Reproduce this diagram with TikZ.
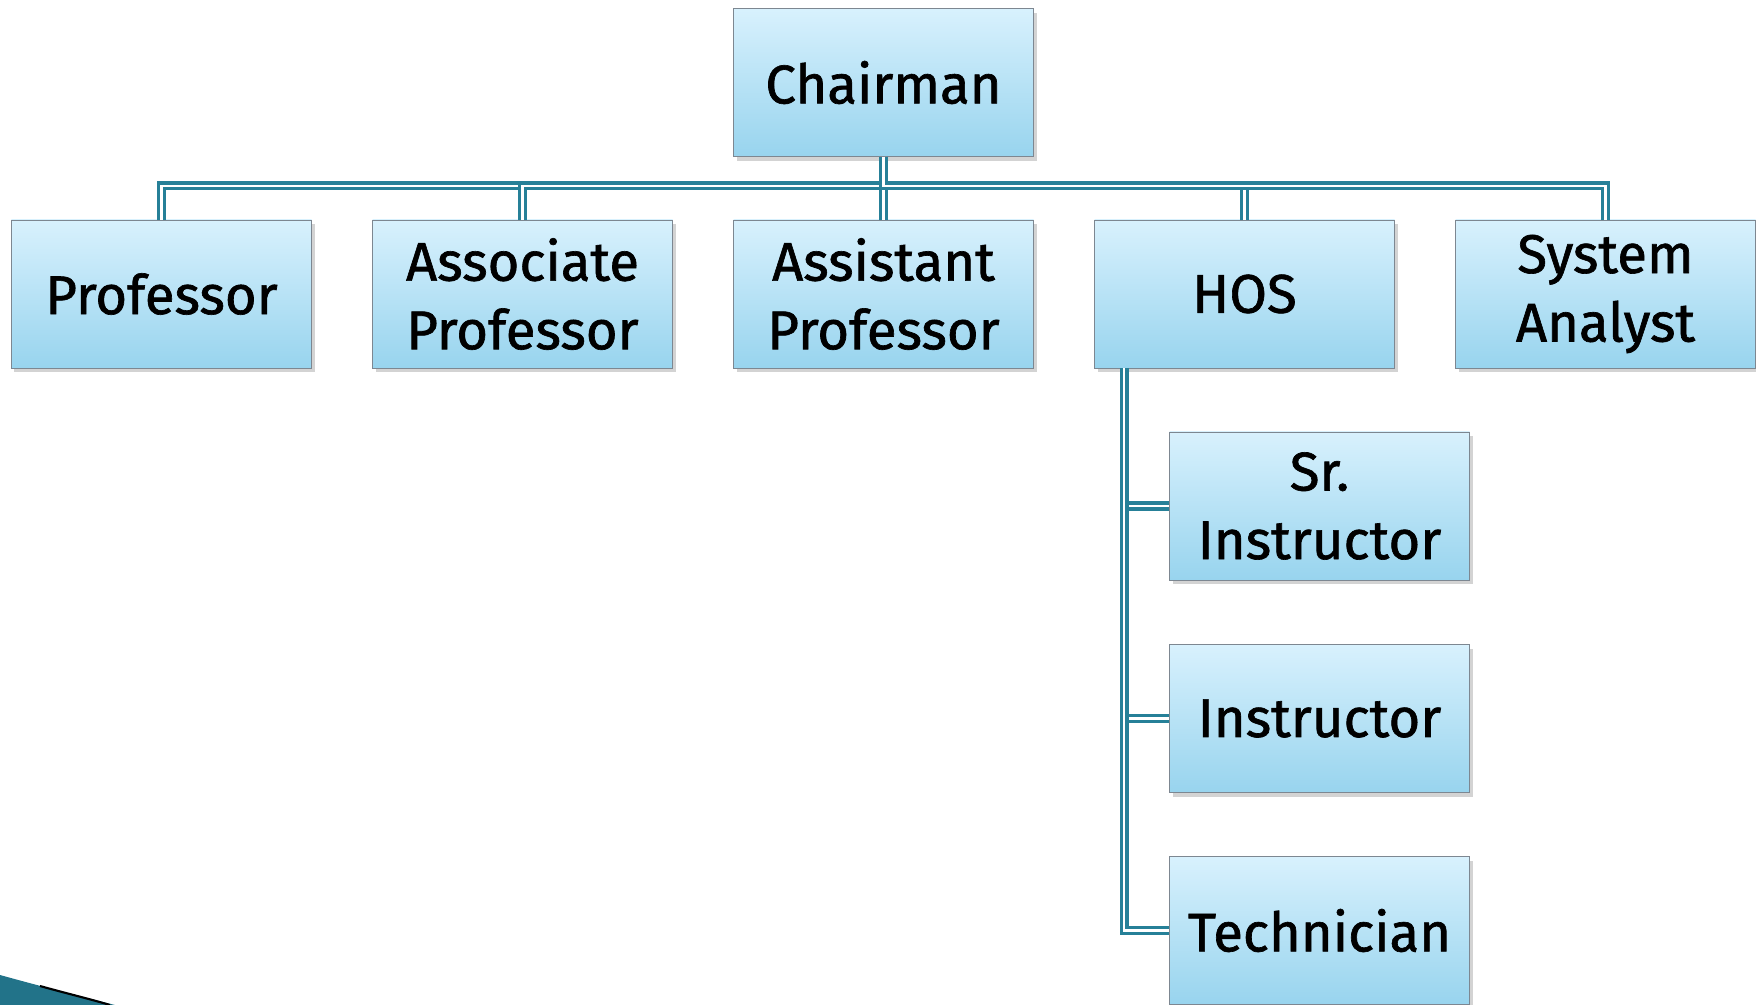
\documentclass[tikz,border=0pt]{standalone}
\usepackage{fontspec}
\setmainfont{Fira Sans}
\newfontfamily\postfont{Fira Sans}[FakeBold=1.2]
\usepackage{tikz}
\usepackage{xcolor}
\usetikzlibrary{positioning}
\usetikzlibrary{shadows}
\definecolor{linkteal}{RGB}{38,128,152}
\definecolor{boxtop}{RGB}{216,241,253}
\definecolor{boxbot}{RGB}{152,212,238}
\definecolor{boxedge}{RGB}{125,135,145}
\tikzset{
    post/.style = {draw=boxedge, rectangle, thin,
        top color=boxtop, bottom color=boxbot,
        minimum height=2.96cm,
        minimum width=6cm,
        align=center,
        font=\postfont\fontsize{31}{39}\selectfont,
        drop shadow={opacity=0.35, shadow xshift=0.06cm, shadow yshift=-0.09cm}},
    link/.style = {draw=linkteal, line width=2pt, double=white, double distance=1.2pt}
}
\begin{document}
\begin{tikzpicture}[node distance=7.22cm]
            \clip (0,0) rectangle (35.12,-20.1);
            \node [post] (chair) at (17.67,-1.65) {Chairman};
            \node [post, below of=chair, node distance=4.23cm] (asst) {Assistant\\Professor};
            \node [post, left of=asst] (assoc) {Associate\\Professor};
            \node [post, left of=assoc] (prof) {Professor};
            \node [post, right of=asst] (hos) {HOS};
            \node [post, right of=hos] (sysan) {System\\Analyst};
            \node [post, below of=hos, node distance=4.24cm, xshift=1.5cm] (srinstr) {Sr.\\Instructor};
            \node [post, below of=srinstr, node distance=4.25cm] (instr) {Instructor};
            \node [post, below of=instr, node distance=4.24cm] (tech) {Technician};
            \coordinate [below=0.58cm of chair.south] (bus);
            \coordinate [right=0.6cm of hos.south west] (trunk);
            % chairman to first row
            \foreach \n in {prof, assoc, asst, hos, sysan}
                \draw [link] (chair.south) -- (bus) -| (\n.north);
            % HOS to its staff
            \foreach \n in {srinstr, instr, tech}
                \draw [link] (trunk) |- (\n.west);
            % corner swoosh
            \fill [linkteal!90!black] (0,-19.5) .. controls (0.9,-19.75) and (1.7,-19.95) .. (2.3,-20.1) -- (0,-20.1) -- cycle;
            \draw [line width=1.2pt, black] (0.8,-19.72) .. controls (1.3,-19.86) and (1.8,-19.98) .. (2.2,-20.1);
        \end{tikzpicture}
\end{document}
